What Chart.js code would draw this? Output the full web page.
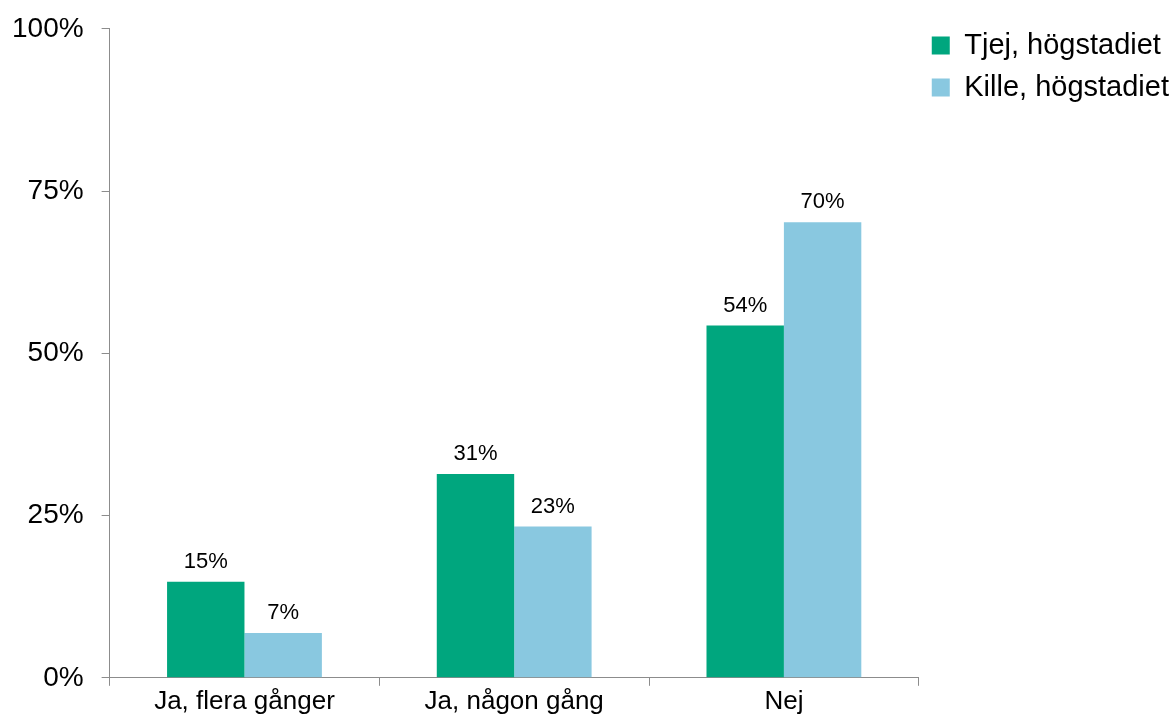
<!DOCTYPE html>
<html>
<head>
<meta charset="utf-8">
<script src="https://cdn.jsdelivr.net/npm/chart.js@4/dist/chart.umd.min.js"></script>
<style>
  html, body { margin: 0; padding: 0; background: #fff; }
  #wrap { width: 1173px; height: 720px; }
</style>
</head>
<body>
<div id="wrap"><canvas id="barChart" width="1173" height="720"></canvas></div>
<script>
// Dados
const categories = ['Ja, flera gånger', 'Ja, någon gång', 'Nej'];
const tjejValues = [14.8, 31.4, 54.3];
const killeValues = [6.9, 23.3, 70.2];
const yTicks = [0, 25, 50, 75, 100];

const FONT = '"Liberation Sans", Arial, sans-serif';

const data = {
    labels: categories,
    datasets: [
        {
            label: 'Tjej, högstadiet',
            backgroundColor: '#00a67e',
            data: tjejValues
        },
        {
            label: 'Kille, högstadiet',
            backgroundColor: '#89c8e0',
            data: killeValues
        }
    ]
};

// etiketter ovanför staplarna
const valueLabels = {
    id: 'valueLabels',
    afterDatasetsDraw(chart) {
        const ctx = chart.ctx;
        ctx.save();
        ctx.font = '22px ' + FONT;
        ctx.fillStyle = '#000';
        ctx.textAlign = 'center';
        ctx.textBaseline = 'bottom';
        chart.data.datasets.forEach((ds, i) => {
            chart.getDatasetMeta(i).data.forEach((bar, j) => {
                ctx.fillText(Math.round(ds.data[j]) + '%', bar.x, bar.y - 9);
            });
        });
        ctx.restore();
    }
};

// Configurações
const config = {
    type: 'bar',
    data: data,
    options: {
        responsive: false,
        animation: false,
        layout: { padding: { top: 18, left: -6, right: -6, bottom: 3 } },
        datasets: {
            bar: { categoryPercentage: 0.574, barPercentage: 1.0 }
        },
        plugins: {
            legend: {
                position: 'right',
                align: 'start',
                labels: {
                    font: { size: 29, family: FONT },
                    color: '#000',
                    boxWidth: 18,
                    boxHeight: 18,
                    padding: 13
                }
            },
            tooltip: { enabled: false }
        },
        scales: {
            x: {
                grid: {
                    display: true,
                    drawOnChartArea: false,
                    drawTicks: true,
                    tickLength: 8,
                    color: '#8c8c8c',
                    offset: true
                },
                border: { color: '#8c8c8c' },
                ticks: {
                    color: '#000',
                    padding: 0,
                    maxRotation: 0,
                    font: { size: 26, family: FONT }
                }
            },
            y: {
                min: 0,
                max: 100,
                afterBuildTicks(axis) {
                    axis.ticks = yTicks.map(v => ({ value: v }));
                },
                grid: {
                    display: true,
                    drawOnChartArea: false,
                    drawTicks: true,
                    tickLength: 8,
                    color: '#8c8c8c'
                },
                border: { color: '#8c8c8c' },
                ticks: {
                    color: '#000',
                    padding: 18,
                    font: { size: 28, family: FONT, lineHeight: 0.78 },
                    callback: v => v + '%'
                }
            }
        }
    },
    plugins: [valueLabels]
};

// Inicialização
const ctx = document.getElementById('barChart').getContext('2d');
const myChart = new Chart(ctx, config);
</script>
</body>
</html>
